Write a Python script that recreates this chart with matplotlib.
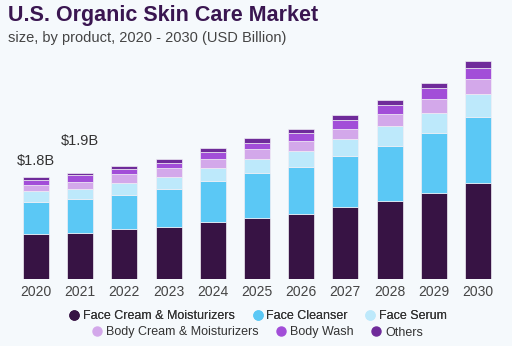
import numpy as np
import matplotlib
matplotlib.use('Agg')
import matplotlib.pyplot as plt
from matplotlib.lines import Line2D

plt.rcParams['font.family'] = ['Liberation Sans', 'DejaVu Sans']

# 数据 (USD Billion)
years = ['2020', '2021', '2022', '2023', '2024', '2025', '2026', '2027', '2028', '2029', '2030']
face_cream = [0.80, 0.82, 0.88, 0.93, 1.01, 1.09, 1.16, 1.27, 1.39, 1.53, 1.70]
face_cleanser = [0.56, 0.59, 0.61, 0.67, 0.72, 0.78, 0.83, 0.91, 0.97, 1.05, 1.16]
face_serum = [0.19, 0.18, 0.21, 0.21, 0.23, 0.25, 0.27, 0.29, 0.34, 0.36, 0.41]
body_cream = [0.12, 0.13, 0.15, 0.15, 0.16, 0.18, 0.19, 0.19, 0.21, 0.24, 0.26]
body_wash = [0.09, 0.12, 0.09, 0.10, 0.12, 0.11, 0.13, 0.15, 0.16, 0.19, 0.20]
others = [0.05, 0.04, 0.06, 0.07, 0.07, 0.08, 0.08, 0.09, 0.09, 0.10, 0.12]

series_names = ['Face Cream & Moisturizers', 'Face Cleanser', 'Face Serum',
                'Body Cream & Moisturizers', 'Body Wash', 'Others']
series = [face_cream, face_cleanser, face_serum, body_cream, body_wash, others]
colors = ['#371344', '#5bc8f5', '#bde9fb', '#d3a8ea', '#a24ed8', '#6f2b9a']

value_labels = {'2020': '$1.8B', '2021': '$1.9B'}
label_offsets = {'2020': 16, '2021': 32}  # 像素

bg = '#f5f9fc'
fig = plt.figure(figsize=(5.12, 3.46), dpi=100, facecolor=bg)
ax = fig.add_axes([0, 0.193, 1, 0.662], facecolor=bg)

x = np.arange(len(years))
bottom = np.zeros(len(years))
for vals, c in zip(series, colors):
    ax.bar(x, vals, width=0.59, bottom=bottom, color=c, edgecolor='#f0eef5', linewidth=0.5)
    bottom += np.array(vals)

# 总量标签
for i, y in enumerate(years):
    if y in value_labels:
        ax.annotate(value_labels[y], (x[i], bottom[i]), xytext=(0, label_offsets[y] * 0.72),
                    textcoords='offset points', ha='center', va='center',
                    fontsize=10.5, color='#333333')

ax.set_xlim(-0.814, 10.77)
ax.set_ylim(0, 4.046)
ax.set_xticks(x)
ax.set_xticklabels(years, fontsize=10, color='#444444')
ax.tick_params(axis='x', length=0, pad=4)
ax.set_yticks([])
for s in ax.spines.values():
    s.set_visible(False)

# 标题
fig.text(0.016, 0.955, 'U.S. Organic Skin Care Market', fontsize=15.5, fontweight='heavy',
         color='#3a1651', ha='left', va='center')
fig.text(0.016, 0.89, 'size, by product, 2020 - 2030 (USD Billion)', fontsize=10.5,
         color='#444444', ha='left', va='center')

# 图例 两行
def make_handles(idx):
    return [Line2D([0], [0], marker='o', linestyle='', markersize=6.5,
                   markerfacecolor=colors[i], markeredgecolor=colors[i]) for i in idx]

leg_kw = dict(loc='center', ncol=3, frameon=False, fontsize=9.0, handletextpad=0.2,
              columnspacing=1.3, handlelength=1.0, labelcolor='#333333')
leg1 = fig.legend(make_handles([0, 1, 2]), series_names[0:3],
                  bbox_to_anchor=(0.503, 1 - 316 / 346), **leg_kw)
fig.add_artist(leg1)
fig.legend(make_handles([3, 4, 5]), series_names[3:6],
           bbox_to_anchor=(0.502, 1 - 332.5 / 346), **leg_kw)

fig.savefig('out.png', dpi=100, facecolor=bg)
